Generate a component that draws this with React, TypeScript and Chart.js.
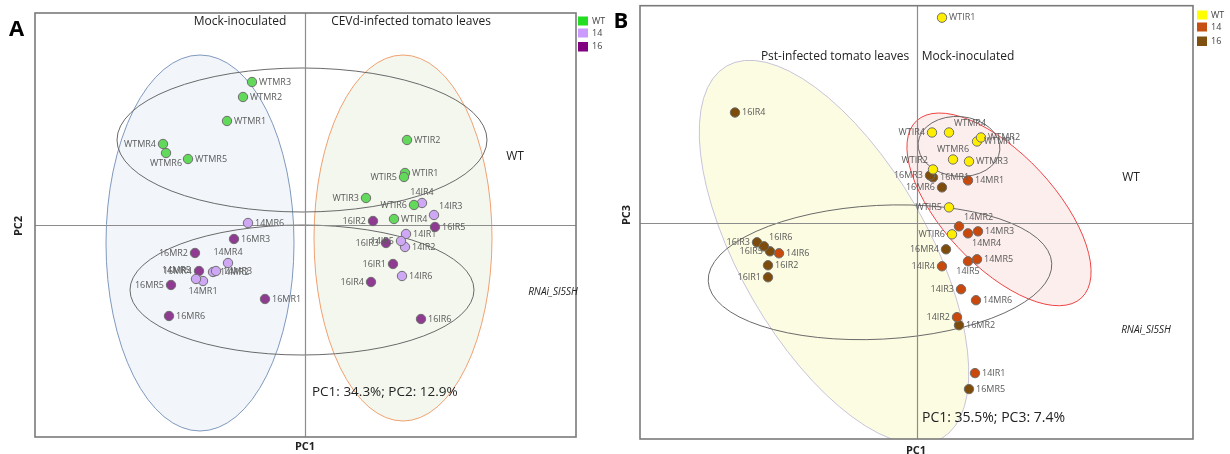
import React, { useEffect, useRef } from "react";
import { Chart, registerables } from "chart.js";
Chart.register(...registerables);

// ================= Panel A : CEVd (PC1 vs PC2) =================
const A_WT_NAMES = ["WTMR1", "WTMR2", "WTMR3", "WTMR4", "WTMR5", "WTMR6", "WTIR1", "WTIR2", "WTIR3", "WTIR4", "WTIR5", "WTIR6"];
const A_WT_PC1 = [-7.8, -6.2, -5.3, -14.2, -11.7, -13.9, 10.0, 10.2, 6.1, 8.9, 9.9, 10.9];
const A_WT_PC2 = [10.4, 12.8, 14.3, 8.1, 6.6, 7.2, 5.2, 8.5, 2.7, 0.6, 4.8, 2.0];

const A_14_NAMES = ["14MR1", "14MR2", "14MR3", "14MR4", "14MR5", "14MR6", "14IR1", "14IR2", "14IR3", "14IR4", "14IR5", "14IR6"];
const A_14_PC1 = [-10.2, -9.2, -8.9, -7.7, -10.9, -5.7, 10.1, 10.0, 12.9, 11.7, 9.6, 9.7];
const A_14_PC2 = [-5.6, -4.7, -4.6, -3.8, -5.4, 0.2, -0.9, -2.2, 1.0, 2.2, -1.6, -5.1];

const A_16_NAMES = ["16MR1", "16MR2", "16MR3", "16MR4", "16MR5", "16MR6", "16IR1", "16IR2", "16IR3", "16IR4", "16IR5", "16IR6"];
const A_16_PC1 = [-4.0, -11.0, -7.1, -10.6, -13.4, -13.6, 8.8, 6.8, 8.1, 6.6, 13.0, 11.6];
const A_16_PC2 = [-7.4, -2.8, -1.4, -4.6, -6.0, -9.1, -3.9, 0.4, -1.8, -5.7, -0.2, -9.4];

// ellipses (data units): centre pc1, centre pc2, semi-axis 1, semi-axis 2, angle (deg)
const A_ELL_CX = [-10.5, 9.8, -0.3, -0.3];
const A_ELL_CY = [-1.8, -1.3, 8.5, -6.5];
const A_ELL_RX = [9.4, 8.9, 18.5, 17.2];
const A_ELL_RY = [18.8, 18.3, 7.2, 6.5];
const A_ELL_ANG = [0, 0, 0, 0];

// ================= Panel B : Pst (PC1 vs PC3) =================
const B_WT_NAMES = ["WTMR1", "WTMR2", "WTMR3", "WTMR4", "WTMR6", "WTIR1", "WTIR2", "WTIR4", "WTIR5", "WTIR6"];
const B_WT_PC1 = [6.0, 6.4, 5.2, 3.2, 3.6, 2.5, 1.6, 1.5, 3.2, 3.5];
const B_WT_PC3 = [8.2, 8.6, 6.2, 9.1, 6.4, 20.6, 5.4, 9.1, 1.6, -1.1];

const B_14_NAMES = ["14MR1", "14MR2", "14MR3", "14MR4", "14MR5", "14MR6", "14IR1", "14IR2", "14IR3", "14IR4", "14IR5", "14IR6"];
const B_14_PC1 = [5.1, 4.2, 6.1, 5.1, 6.0, 5.9, 5.8, 4.0, 4.4, 2.5, 5.1, -13.8];
const B_14_PC3 = [4.3, -0.3, -0.8, -1.0, -3.6, -7.7, -15.0, -9.4, -6.6, -4.3, -3.8, -3.0];

const B_16_NAMES = ["16MR1", "16MR2", "16MR3", "16MR4", "16MR5", "16MR6", "16IR1", "16IR2", "16IR3", "16IR4", "16IR5", "16IR6"];
const B_16_PC1 = [1.6, 4.2, 1.3, 2.9, 5.2, 2.5, -14.9, -14.9, -16.0, -18.2, -14.7, -15.3];
const B_16_PC3 = [4.6, -10.2, 4.8, -2.6, -16.6, 3.6, -5.4, -4.2, -1.9, 11.1, -2.8, -2.3];

const B_ELL_CX = [-8.3, 8.2, 4.2, -3.7];
const B_ELL_CY = [-2.9, 1.4, 7.7, -4.9];
const B_ELL_RX = [21.5, 12.1, 4.1, 17.2];
const B_ELL_RY = [9.4, 5.6, 3.0, 6.7];
const B_ELL_ANG = [-60, -47, -5, 3];

// ---------------- label placement (styling) ----------------
const A_WT_SIDE = ["r", "r", "r", "l", "r", "b", "r", "r", "l", "r", "l", "l"];
const A_14_SIDE = ["b", "r", "r", "t", "tl", "r", "r", "r", "tr", "t", "l", "r"];
const A_16_SIDE = ["r", "l", "r", "l", "l", "r", "l", "l", "l", "l", "r", "r"];
const B_WT_SIDE = ["r", "r", "r", "tr", "t", "r", "tl", "l", "l", "l"];
const B_14_SIDE = ["r", "tr", "r", "br", "r", "r", "r", "l", "l", "l", "b", "r"];
const B_16_SIDE = ["r", "r", "l", "l", "r", "l", "l", "r", "l", "r", "l", "tr"];

const FONT = '"Open Sans", "DejaVu Sans", sans-serif';

type Txt = { t: string; x: number; y: number; font: string; color?: string; align?: CanvasTextAlign; rot?: number };

function makeDecor(cfg: any) {
  return {
    id: "pcaDecor" + cfg.id,
    beforeDatasetsDraw(chart: any) {
      const { ctx, chartArea: ca, scales } = chart;
      const x = scales.x, y = scales.y;
      ctx.save();
      ctx.beginPath();
      ctx.rect(ca.left, ca.top, ca.right - ca.left, ca.bottom - ca.top);
      ctx.clip();
      cfg.ell.cx.forEach((cxv: number, i: number) => {
        const st = cfg.ellStyle[i];
        const cx = x.getPixelForValue(cxv);
        const cy = y.getPixelForValue(cfg.ell.cy[i]);
        const rx = Math.abs(x.getPixelForValue(cxv + cfg.ell.rx[i]) - cx);
        const ry = Math.abs(y.getPixelForValue(cfg.ell.cy[i] + cfg.ell.ry[i]) - cy);
        ctx.beginPath();
        ctx.ellipse(cx, cy, rx, ry, (-cfg.ell.ang[i] * Math.PI) / 180, 0, Math.PI * 2);
        if (st.fill) {
          ctx.fillStyle = st.fill;
          ctx.fill();
        }
        ctx.strokeStyle = st.stroke;
        ctx.lineWidth = st.width;
        ctx.stroke();
      });
      // zero axes
      const x0 = Math.round(x.getPixelForValue(0)) + 0.5;
      const y0 = Math.round(y.getPixelForValue(0)) + 0.5;
      ctx.strokeStyle = "#8c8c8c";
      ctx.lineWidth = 1.2;
      ctx.beginPath();
      ctx.moveTo(x0, ca.top);
      ctx.lineTo(x0, ca.bottom);
      ctx.moveTo(ca.left, y0);
      ctx.lineTo(ca.right, y0);
      ctx.stroke();
      ctx.restore();
    },
    afterDatasetsDraw(chart: any) {
      const { ctx, chartArea: ca, scales } = chart;
      const x = scales.x, y = scales.y;
      ctx.save();
      // point labels
      ctx.font = "9px " + FONT;
      ctx.fillStyle = "#5a5a5a";
      cfg.groups.forEach((g: any) => {
        g.names.forEach((nm: string, i: number) => {
          const px = x.getPixelForValue(g.xs[i]);
          const py = y.getPixelForValue(g.ys[i]);
          const s = g.sides[i];
          let tx = px, ty = py, al: CanvasTextAlign = "left", bl: CanvasTextBaseline = "middle";
          if (s === "r") { tx = px + 7; }
          else if (s === "l") { tx = px - 7; al = "right"; }
          else if (s === "t") { ty = py - 6; al = "center"; bl = "bottom"; }
          else if (s === "b") { ty = py + 6; al = "center"; bl = "top"; }
          else if (s === "tr") { tx = px + 5; ty = py - 9; }
          else if (s === "tl") { tx = px - 5; ty = py - 9; al = "right"; }
          else if (s === "br") { tx = px + 4; ty = py + 10; }
          ctx.textAlign = al;
          ctx.textBaseline = bl;
          ctx.fillText(nm, tx, ty);
        });
      });
      // frame
      ctx.strokeStyle = "#7a7a7a";
      ctx.lineWidth = 1.6;
      ctx.strokeRect(ca.left, ca.top, ca.right - ca.left, ca.bottom - ca.top);
      // texts
      cfg.texts.forEach((t: Txt) => {
        ctx.save();
        ctx.font = t.font;
        ctx.fillStyle = t.color || "#222";
        ctx.textAlign = t.align || "center";
        ctx.textBaseline = "middle";
        ctx.translate(t.x - cfg.offsetX, t.y);
        if (t.rot) ctx.rotate(t.rot);
        ctx.fillText(t.t, 0, 0);
        ctx.restore();
      });
      // legend
      cfg.legend.forEach((l: any) => {
        ctx.fillStyle = l.color;
        ctx.fillRect(l.x - cfg.offsetX, l.y, l.w, l.h);
        ctx.fillStyle = "#444";
        ctx.font = "9px " + FONT;
        ctx.textAlign = "left";
        ctx.textBaseline = "middle";
        ctx.fillText(l.label, l.x - cfg.offsetX + l.w + 4, l.y + l.h / 2);
      });
      ctx.restore();
    },
  };
}

function buildChart(canvas: HTMLCanvasElement, cfg: any) {
  return new Chart(canvas, {
    type: "scatter",
    data: {
      datasets: cfg.groups.map((g: any) => ({
        label: g.label,
        data: g.xs.map((v: number, i: number) => ({ x: v, y: g.ys[i] })),
        backgroundColor: g.color,
        borderColor: "#6e6e6e",
        borderWidth: 1,
        pointRadius: 4.7,
        pointHoverRadius: 4.7,
      })),
    },
    options: {
      responsive: false,
      animation: false,
      events: [],
      layout: { padding: cfg.padding },
      scales: {
        x: { type: "linear", display: false, min: cfg.xRange[0], max: cfg.xRange[1] },
        y: { type: "linear", display: false, min: cfg.yRange[0], max: cfg.yRange[1] },
      },
      plugins: { legend: { display: false }, tooltip: { enabled: false } },
    },
    plugins: [makeDecor(cfg)],
  } as any);
}

const cfgA = {
  id: "A",
  offsetX: 0,
  padding: { left: 35, top: 13, right: 39, bottom: 17 },
  xRange: [-27, 27.1],
  yRange: [-21.2, 21.2],
  groups: [
    { label: "WT", names: A_WT_NAMES, xs: A_WT_PC1, ys: A_WT_PC2, sides: A_WT_SIDE, color: "#62d95a" },
    { label: "14", names: A_14_NAMES, xs: A_14_PC1, ys: A_14_PC2, sides: A_14_SIDE, color: "#cfa8f5" },
    { label: "16", names: A_16_NAMES, xs: A_16_PC1, ys: A_16_PC2, sides: A_16_SIDE, color: "#8f3b91" },
  ],
  ell: { cx: A_ELL_CX, cy: A_ELL_CY, rx: A_ELL_RX, ry: A_ELL_RY, ang: A_ELL_ANG },
  ellStyle: [
    { fill: "#f2f6fb", stroke: "#7f98bd", width: 1 },
    { fill: "#f4f7ee", stroke: "#f0a070", width: 1 },
    { fill: null, stroke: "#6a6a6a", width: 1 },
    { fill: null, stroke: "#6a6a6a", width: 1 },
  ],
  texts: [
    { t: "A", x: 16.5, y: 30, font: "bold 22px " + FONT, color: "#000" },
    { t: "Mock-inoculated", x: 240, y: 22, font: "12px " + FONT },
    { t: "CEVd-infected tomato leaves", x: 411, y: 22, font: "12px " + FONT },
    { t: "WT", x: 515, y: 157, font: "12px " + FONT },
    { t: "RNAi_Sl5SH", x: 553, y: 292, font: "italic 10px " + FONT },
    { t: "PC1: 34.3%; PC2: 12.9%", x: 312, y: 392, font: "13.5px " + FONT, align: "left" },
    { t: "PC1", x: 305, y: 447, font: "bold 11px " + FONT },
    { t: "PC2", x: 19, y: 226, font: "bold 11px " + FONT, rot: -Math.PI / 2 },
  ],
  legend: [
    { x: 578, y: 16.5, w: 10, h: 9, color: "#22dd22", label: "WT" },
    { x: 578, y: 28.5, w: 10, h: 9, color: "#cc99ff", label: "14" },
    { x: 578, y: 42, w: 10, h: 9.5, color: "#800080", label: "16" },
  ],
};

const cfgB = {
  id: "B",
  offsetX: 615,
  padding: { left: 25, top: 5, right: 37, bottom: 15 },
  xRange: [-27.7, 27.6],
  yRange: [-21.6, 21.8],
  groups: [
    { label: "WT", names: B_WT_NAMES, xs: B_WT_PC1, ys: B_WT_PC3, sides: B_WT_SIDE, color: "#ffee00" },
    { label: "14", names: B_14_NAMES, xs: B_14_PC1, ys: B_14_PC3, sides: B_14_SIDE, color: "#c9480b" },
    { label: "16", names: B_16_NAMES, xs: B_16_PC1, ys: B_16_PC3, sides: B_16_SIDE, color: "#7d4c0b" },
  ],
  ell: { cx: B_ELL_CX, cy: B_ELL_CY, rx: B_ELL_RX, ry: B_ELL_RY, ang: B_ELL_ANG },
  ellStyle: [
    { fill: "#fcfce2", stroke: "#c9c3d9", width: 1 },
    { fill: "#fdeeee", stroke: "#ee4444", width: 1 },
    { fill: null, stroke: "#6a6a6a", width: 1 },
    { fill: null, stroke: "#6a6a6a", width: 1 },
  ],
  texts: [
    { t: "B", x: 621, y: 22, font: "bold 22px " + FONT, color: "#000" },
    { t: "Pst-infected tomato leaves", x: 835, y: 57, font: "12px " + FONT },
    { t: "Mock-inoculated", x: 968, y: 57, font: "12px " + FONT },
    { t: "WT", x: 1131, y: 178, font: "12px " + FONT },
    { t: "RNAi_Sl5SH", x: 1146, y: 330, font: "italic 10px " + FONT },
    { t: "PC1: 35.5%; PC3: 7.4%", x: 922, y: 418, font: "14px " + FONT, align: "left" },
    { t: "PC1", x: 916, y: 451, font: "bold 11px " + FONT },
    { t: "PC3", x: 627, y: 215, font: "bold 11px " + FONT, rot: -Math.PI / 2 },
  ],
  legend: [
    { x: 1197, y: 10.5, w: 10, h: 9, color: "#ffff00", label: "WT" },
    { x: 1197, y: 22.5, w: 10, h: 9, color: "#c55011", label: "14" },
    { x: 1197, y: 36.5, w: 10, h: 9.5, color: "#7f5010", label: "16" },
  ],
};

export default function App() {
  const refA = useRef<HTMLCanvasElement | null>(null);
  const refB = useRef<HTMLCanvasElement | null>(null);
  useEffect(() => {
    const ca = buildChart(refA.current!, cfgA);
    const cb = buildChart(refB.current!, cfgB);
    return () => {
      ca.destroy();
      cb.destroy();
    };
  }, []);
  return (
    <div style={{ position: "fixed", left: 0, top: 0, width: 1230, height: 454, background: "#fff", overflow: "hidden" }}>
      <canvas ref={refA} width={615} height={454} style={{ position: "absolute", left: 0, top: 0 }} />
      <canvas ref={refB} width={615} height={454} style={{ position: "absolute", left: 615, top: 0 }} />
    </div>
  );
}
